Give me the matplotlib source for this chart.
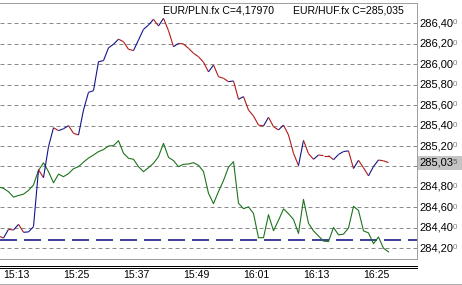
import numpy as np
import matplotlib
matplotlib.use("Agg")
import matplotlib.pyplot as plt
from matplotlib.collections import LineCollection
from matplotlib.transforms import blended_transform_factory
from matplotlib.patches import Rectangle
from matplotlib.lines import Line2D

plt.rcParams['font.family'] = ['Liberation Sans', 'DejaVu Sans']
plt.rcParams['lines.scale_dashes'] = False

# ---- data (minute index 0 = 15:13) ----
minutes = list(range(-1, 78))
eur_huf = [284.32, 284.30, 284.385, 284.378, 284.434, 284.356, 284.36, 284.411, 284.968, 284.89,
           285.193, 285.379, 285.350, 285.369, 285.399, 285.324, 285.308, 285.552, 285.725, 285.741,
           286.025, 286.035, 286.16, 286.195, 286.245, 286.22, 286.146, 286.133, 286.237, 286.341,
           286.383, 286.439, 286.374, 286.449, 286.328, 286.171, 286.204, 286.198, 286.155, 286.107,
           286.073, 286.02, 285.925, 285.992, 285.878, 285.862, 285.829, 285.836, 285.657, 285.683,
           285.552, 285.493, 285.405, 285.396, 285.481, 285.389, 285.357, 285.405, 285.308, 285.129,
           285.008, 285.255, 285.125, 285.07, 285.112, 285.106, 285.106, 285.066, 285.117, 285.146,
           285.152, 284.98, 285.06, 284.987, 284.908, 285.0, 285.063, 285.055, 285.038]
eur_pln = [284.80, 284.786, 284.753, 284.70, 284.716, 284.729, 284.766, 284.819, 284.962, 285.035,
           284.949, 284.84, 284.925, 284.90, 284.93, 284.978, 284.998, 285.042, 285.082, 285.112,
           285.145, 285.165, 285.20, 285.203, 285.252, 285.129, 285.08, 285.07, 284.998, 284.949,
           284.988, 285.031, 285.096, 285.226, 285.089, 285.057, 284.998, 285.021, 285.024, 285.037,
           285.011, 284.95, 284.737, 284.636, 284.755, 284.862, 284.993, 285.047, 284.64, 284.587,
           284.605, 284.54, 284.303, 284.303, 284.528, 284.372, 284.473, 284.585, 284.538, 284.481,
           284.345, 284.678, 284.444, 284.37, 284.32, 284.27, 284.266, 284.403, 284.331, 284.338,
           284.398, 284.61, 284.57, 284.37, 284.35, 284.245, 284.31, 284.20, 284.165]
ref_level = 284.28
current_value = 285.035
time_ticks = [0, 12, 24, 36, 48, 60, 72]
time_labels = ["15:13", "15:25", "15:37", "15:49", "16:01", "16:13", "16:25"]
y_ticks = [284.2, 284.4, 284.6, 284.8, 285.0, 285.2, 285.4, 285.6, 285.8, 286.0, 286.2, 286.4]
title_pln = "EUR/PLN.fx C=4,17970"
title_huf = "EUR/HUF.fx C=285,035"

W, H = 462, 285
fig = plt.figure(figsize=(W / 100, H / 100), dpi=100)
fig.patch.set_facecolor('white')
ax_right, ax_top, ax_bot = 417, 2.5, 259
ax = fig.add_axes([0, 1 - ax_bot / H, ax_right / W, (ax_bot - ax_top) / H])
ax.set_xlim(-0.7, 82.7)
ax.set_ylim(284.0949, 286.6034)

BLUE = '#12128c'
RED = '#b01818'
GREEN = '#1b731b'
GRID = '#8a8a8a'
BORDER = '#a0a0a0'
px = 0.72

for v in y_ticks:
    ax.axhline(v, color=GRID, lw=1 * px, ls=(0, (4 * px, 3 * px)), zorder=1)

ax.axhline(ref_level, color=BLUE, lw=1.6 * px, ls=(0, (17 * px, 7 * px)), zorder=2)

ax.plot(minutes, eur_pln, color=GREEN, lw=1.1 * px, zorder=3)

x = np.array(minutes, dtype=float)
y = np.array(eur_huf)
segs = np.stack([np.column_stack([x[:-1], y[:-1]]), np.column_stack([x[1:], y[1:]])], axis=1)
cols = [BLUE if y[i + 1] > y[i] else RED for i in range(len(y) - 1)]
ax.add_collection(LineCollection(segs, colors=cols, linewidths=1.1 * px, zorder=4))

ax.spines['left'].set_visible(False)
for s in ['top', 'right', 'bottom']:
    ax.spines[s].set_color(BORDER)
    ax.spines[s].set_linewidth(1 * px)
ax.set_yticks([])
ax.set_xticks([])

# time labels
tr_x = blended_transform_factory(ax.transData, fig.transFigure)
for t, lab in zip(time_ticks, time_labels):
    ax.text(t - 0.15, 1 - 275.5 / H, lab, transform=tr_x, ha='left', va='center',
            fontsize=7.6, color='black', clip_on=False)

# y labels on right (last digit smaller and grey)
tr_y = blended_transform_factory(fig.transFigure, ax.transData)
def value_label(v, zorder=5, digit_color='#7a7a7a'):
    s = f"{v:.3f}".replace('.', ',')
    t = ax.text(419 / W, v, s[:-1], transform=tr_y, ha='left', va='center',
                fontsize=8, color='black', clip_on=False, zorder=zorder)
    ax.annotate(s[-1], xy=(1.0, 0.18), xycoords=t, ha='left', va='bottom',
                fontsize=5.8, color=digit_color, annotation_clip=False, zorder=zorder)
    return t

for v in y_ticks:
    if abs(v - current_value) > 0.1:
        value_label(v)

# current value box (drawn in the axes so its label stacks on top)
box = Rectangle((418 / W, 1 - 170 / H), (W - 418) / W, 14 / H, transform=fig.transFigure,
                facecolor='#c4c4c4', edgecolor='none', zorder=10, clip_on=False)
ax.add_patch(box)
value_label(current_value, zorder=11, digit_color='#5e5e5e')

# titles
fig.text(163 / W, 1 - 10.5 / H, title_pln, ha='left', va='center', fontsize=7.6, color='black')
fig.text(293 / W, 1 - 10.5 / H, title_huf, ha='left', va='center', fontsize=7.6, color='black')

# frame lines below axes
for yy in (265.7, 268.2):
    fig.add_artist(Line2D([0, ax_right / W], [1 - yy / H] * 2, color='black', lw=1 * px))
fig.add_artist(Line2D([0, 1], [1 - 283.5 / H] * 2, color='#b0b0b0', lw=1 * px))

fig.savefig('out.png', dpi=100, facecolor='white')
